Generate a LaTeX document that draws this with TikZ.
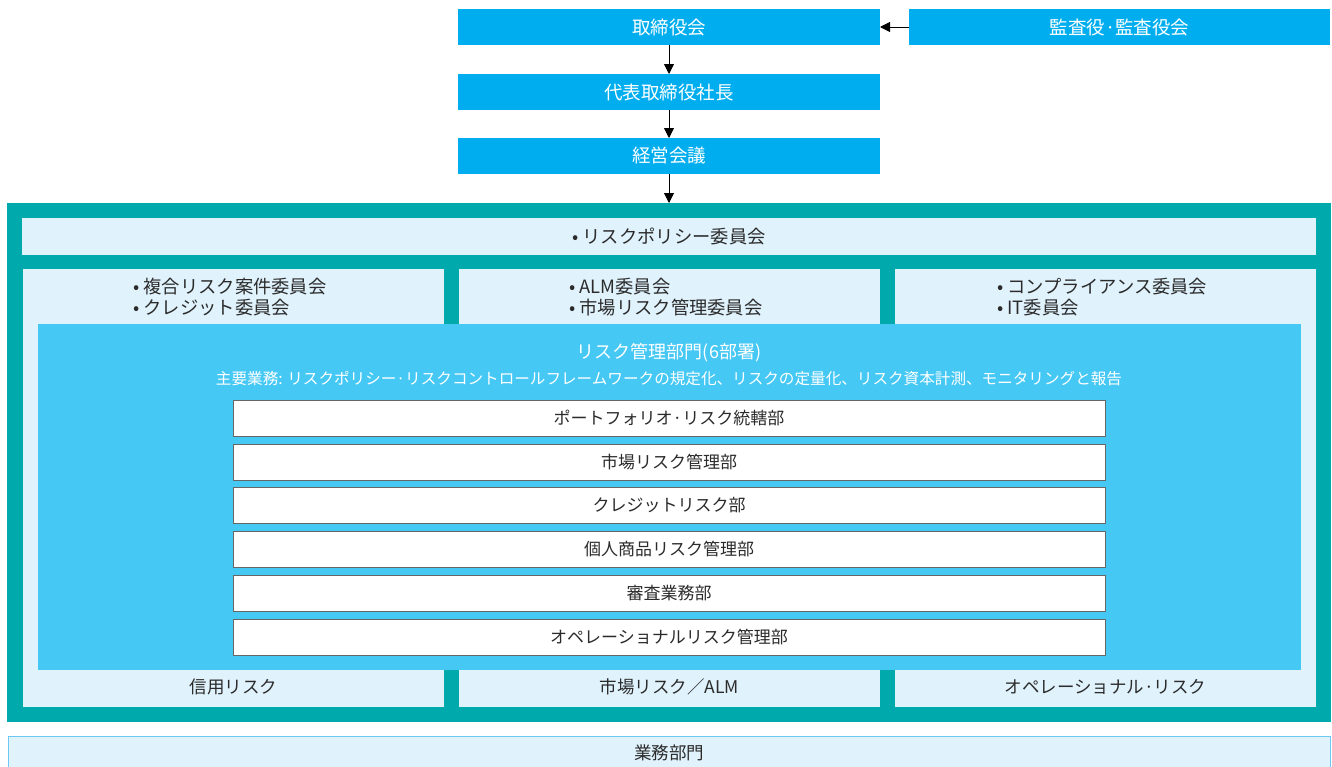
\documentclass[tikz,border=0pt]{standalone}
\usepackage{fontspec}
\setmainfont{Noto Sans CJK JP}
\usetikzlibrary{arrows.meta}
\definecolor{topblue}{HTML}{00AEEF}
\definecolor{teal}{HTML}{00A9AC}
\definecolor{pale}{HTML}{E0F2FC}
\definecolor{riskblue}{HTML}{46C8F5}
\definecolor{txt}{HTML}{2B2B2B}
\definecolor{edge}{HTML}{666666}
\definecolor{paleedge}{HTML}{6CC8F0}
\tikzset{
  topbox/.style={fill=topblue, text=white, inner sep=0pt, outer sep=0pt, font=\fontsize{18.5}{21}\selectfont},
  palebox/.style={fill=pale, inner sep=0pt, outer sep=0pt},
  lbl/.style={text=txt, inner sep=0pt, font=\fontsize{17.5}{21}\selectfont},
  com/.style={text=txt, inner sep=0pt, font=\fontsize{18.3}{21}\selectfont},
  dept/.style={fill=white, draw=edge, line width=1pt, text=txt, inner sep=0pt, outer sep=0pt, minimum width=872pt, minimum height=36pt, font=\fontsize{17}{19}\selectfont},
  arr/.style={-{Triangle[length=10pt,width=10pt]}, line width=0.8pt, draw=black}
}
\begin{document}
\begin{tikzpicture}[x=1pt,y=-1pt]
\useasboundingbox (0,0) rectangle (1332,766);
% top chain
\node[topbox, minimum width=422pt, minimum height=36pt] (board) at (669,27) {取締役会};
\node[topbox, minimum width=421pt, minimum height=36pt] (audit) at (1119.5,27) {監査役·監査役会};
\node[topbox, minimum width=422pt, minimum height=36pt] (ceo) at (669,92) {代表取締役社長};
\node[topbox, minimum width=422pt, minimum height=36pt] (exec) at (669,156) {経営会議};
% teal frame
\node[fill=teal, inner sep=0pt, outer sep=0pt, minimum width=1324pt, minimum height=519pt] (frame) at (669,462.5) {};
\draw[arr] (audit.west) -- (board.east);
\draw[arr] (board.south) -- (ceo.north);
\draw[arr] (ceo.south) -- (exec.north);
\draw[arr] (exec.south) -- (exec.south |- frame.north);
% policy strip
\node[palebox, minimum width=1294pt, minimum height=37pt, text=txt, font=\fontsize{18.3}{21}\selectfont] (policy) at (669,236.5) {• リスクポリシー委員会};
% columns
\node[palebox, minimum width=421pt, minimum height=438pt] (colL) at (233.5,488) {};
\node[palebox, minimum width=421pt, minimum height=438pt] (colM) at (669.5,488) {};
\node[palebox, minimum width=421pt, minimum height=438pt] (colR) at (1105.5,488) {};
\node[com, align=left, anchor=north west] (comL) at (133,278) {• 複合リスク案件委員会\\• クレジット委員会};
\node[com, align=left, anchor=north west] (comM) at (569,278) {• ALM委員会\\• 市場リスク管理委員会};
\node[com, align=left, anchor=north west] (comR) at (997,278) {• コンプライアンス委員会\\• IT委員会};
\node[lbl] (botL) at (233.5,687) {信用リスク};
\node[lbl] (botM) at (669.5,687) {市場リスク／ALM};
\node[lbl] (botR) at (1105.5,687) {オペレーショナル·リスク};
% risk management division
\node[fill=riskblue, inner sep=0pt, outer sep=0pt, minimum width=1263pt, minimum height=346pt] (risk) at (669.5,497) {};
\node[text=white, inner sep=0pt, font=\fontsize{18}{21}\selectfont] (risktitle) at (669,353) {リスク管理部門(6部署)};
\node[text=white, inner sep=0pt, font=\fontsize{15}{18}\selectfont] (risksub) at (669,379) {\resizebox{906pt}{!}{主要業務: リスクポリシー·リスクコントロールフレームワークの規定化、リスクの定量化、リスク資本計測、モニタリングと報告}};
\node[dept] (d1) at (669,418) {ポートフォリオ·リスク統轄部};
\node[dept] (d2) at (669,462) {市場リスク管理部};
\node[dept] (d3) at (669,505) {クレジットリスク部};
\node[dept] (d4) at (669,549) {個人商品リスク管理部};
\node[dept] (d5) at (669,593) {審査業務部};
\node[dept] (d6) at (669,637) {オペレーショナルリスク管理部};
% business units
\node[fill=pale, draw=paleedge, line width=1pt, inner sep=0pt, outer sep=0pt, minimum width=1322pt, minimum height=40pt, anchor=north] (biz) at (669,736.5) {};
\node[lbl] (bizlbl) at (669,753) {業務部門};
\end{tikzpicture}
\end{document}
